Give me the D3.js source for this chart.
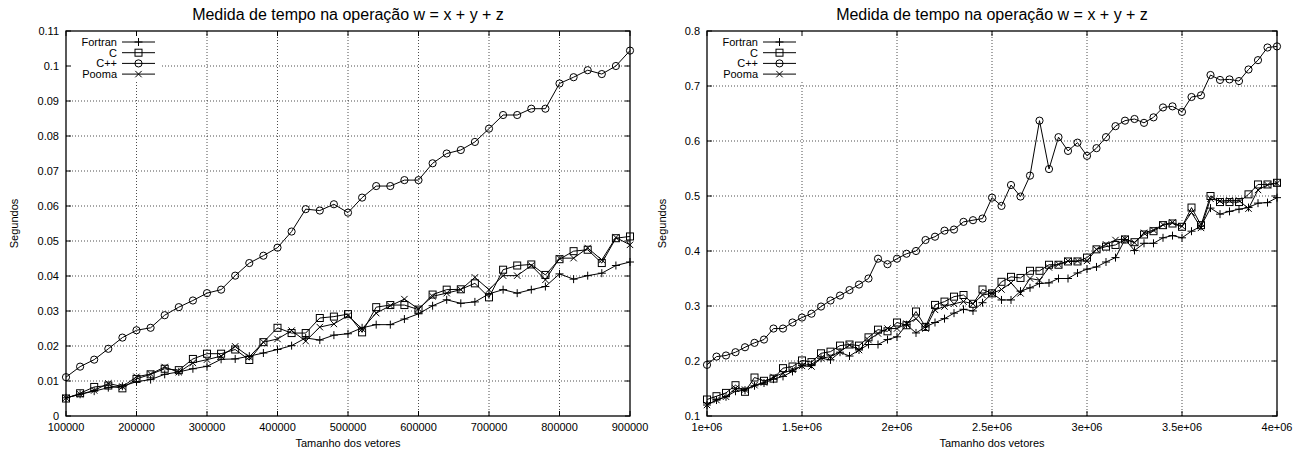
<!DOCTYPE html>
<html>
<head>
<meta charset="utf-8">
<script src="https://cdn.jsdelivr.net/npm/d3@7"></script>
<style>
  body { margin: 0; background: #fff; }
  svg { display: block; font-family: "Liberation Sans", Arial, sans-serif; }
</style>
</head>
<body>
<div id="container"></div>
<script>
// tamanhos dos vetores (eixo x)
const sizesA = [100000, 120000, 140000, 160000, 180000, 200000, 220000, 240000, 260000, 280000,
    300000, 320000, 340000, 360000, 380000, 400000, 420000, 440000, 460000, 480000,
    500000, 520000, 540000, 560000, 580000, 600000, 620000, 640000, 660000, 680000,
    700000, 720000, 740000, 760000, 780000, 800000, 820000, 840000, 860000, 880000, 900000];
const sizesB = [1000000, 1050000, 1100000, 1150000, 1200000, 1250000, 1300000, 1350000, 1400000, 1450000,
    1500000, 1550000, 1600000, 1650000, 1700000, 1750000, 1800000, 1850000, 1900000, 1950000,
    2000000, 2050000, 2100000, 2150000, 2200000, 2250000, 2300000, 2350000, 2400000, 2450000,
    2500000, 2550000, 2600000, 2650000, 2700000, 2750000, 2800000, 2850000, 2900000, 2950000,
    3000000, 3050000, 3100000, 3150000, 3200000, 3250000, 3300000, 3350000, 3400000, 3450000,
    3500000, 3550000, 3600000, 3650000, 3700000, 3750000, 3800000, 3850000, 3900000, 3950000, 4000000];

const seriesNames = ['Fortran', 'C', 'C++', 'Pooma'];

// segundos - grafico da esquerda
const fortranA = [.0052, .0062, .0071, .0081, .0085, .0098, .0104, .0119, .0126, .0135,
    .0142, .0162, .0163, .0171, .0180, .0190, .0201, .0223, .0217, .0231,
    .0235, .0252, .0261, .0261, .0277, .0292, .0315, .0332, .0322, .0326,
    .0349, .0361, .0351, .0361, .0370, .0406, .0391, .0401, .0408, .0430, .0440];
const cA = [.0050, .0065, .0083, .0087, .0079, .0106, .0119, .0135, .0131, .0163,
    .0178, .0178, .0190, .0160, .0211, .0252, .0237, .0237, .0280, .0284,
    .0291, .0239, .0311, .0317, .0317, .0304, .0347, .0361, .0362, .0379,
    .0339, .0418, .0430, .0433, .0403, .0448, .0471, .0475, .0437, .0508, .0513];
const cppA = [.0111, .0141, .0161, .0192, .0224, .0245, .0252, .0288, .0311, .0330,
    .0351, .0361, .0401, .0437, .0458, .0481, .0527, .0591, .0587, .0605,
    .0581, .0624, .0657, .0657, .0674, .0674, .0722, .0750, .0760, .0783,
    .0821, .0860, .0860, .0878, .0878, .0950, .0968, .0988, .0977, .1000, .1044];
const poomaA = [.0052, .0062, .0073, .0093, .0084, .0112, .0120, .0140, .0125, .0152,
    .0161, .0171, .0199, .0169, .0211, .0220, .0244, .0214, .0254, .0263,
    .0287, .0249, .0294, .0315, .0334, .0306, .0342, .0351, .0361, .0396,
    .0361, .0401, .0401, .0430, .0389, .0451, .0451, .0480, .0446, .0510, .0489];

// segundos - grafico da direita
const fortranB = [.120, .129, .135, .145, .147, .155, .160, .167, .172, .181,
    .192, .194, .205, .202, .216, .209, .220, .230, .230, .239,
    .244, .266, .251, .262, .270, .277, .287, .294, .291, .306,
    .323, .311, .311, .327, .333, .341, .342, .350, .350, .360,
    .367, .371, .380, .388, .421, .401, .414, .414, .424, .428,
    .424, .436, .445, .478, .467, .472, .476, .479, .487, .488, .497];
const cB = [.130, .136, .142, .156, .144, .170, .164, .168, .187, .190,
    .201, .198, .214, .217, .228, .230, .228, .243, .257, .254,
    .270, .265, .290, .262, .302, .308, .317, .320, .304, .330,
    .323, .344, .353, .351, .364, .364, .375, .375, .381, .381,
    .388, .403, .408, .411, .421, .416, .430, .436, .447, .450,
    .444, .479, .447, .500, .489, .489, .489, .503, .521, .521, .524];
const cppB = [.193, .208, .210, .216, .225, .233, .239, .259, .259, .270,
    .279, .286, .299, .310, .319, .329, .339, .350, .386, .376,
    .386, .395, .400, .420, .426, .437, .439, .453, .456, .459,
    .497, .482, .520, .499, .537, .637, .549, .607, .582, .597,
    .573, .587, .607, .627, .637, .640, .633, .643, .661, .663,
    .653, .680, .683, .720, .711, .712, .709, .730, .747, .770, .772];
const poomaB = [.120, .129, .135, .150, .148, .156, .161, .171, .178, .184,
    .191, .190, .205, .208, .217, .229, .220, .238, .250, .259,
    .259, .268, .277, .259, .293, .299, .304, .308, .304, .320,
    .323, .330, .342, .323, .350, .347, .370, .376, .382, .382,
    .382, .403, .412, .420, .422, .415, .433, .438, .448, .452,
    .445, .470, .442, .495, .491, .492, .492, .477, .511, .520, .523];

// ticks
const xTicksA = [100000, 200000, 300000, 400000, 500000, 600000, 700000, 800000, 900000];
const yTicksA = [0, 0.01, 0.02, 0.03, 0.04, 0.05, 0.06, 0.07, 0.08, 0.09, 0.1, 0.11];
const xTicksB = [1000000, 1500000, 2000000, 2500000, 3000000, 3500000, 4000000];
const xLabelsB = ['1e+06', '1.5e+06', '2e+06', '2.5e+06', '3e+06', '3.5e+06', '4e+06'];
const yTicksB = [0.1, 0.2, 0.3, 0.4, 0.5, 0.6, 0.7, 0.8];

const W = 1302, H = 451;
const svg = d3.select('#container')
    .append('svg')
    .attr('width', W)
    .attr('height', H);

// simbolos estilo gnuplot
function drawPoint(sel, kind) {
    if (kind === 0) {
        sel.append('path').attr('d', 'M-4,0H4M0,-4V4');
    } else if (kind === 1) {
        sel.append('rect').attr('x', -3.5).attr('y', -3.5).attr('width', 7).attr('height', 7)
            .attr('fill', 'none');
    } else if (kind === 2) {
        sel.append('circle').attr('r', 3.6).attr('fill', 'none');
    } else {
        sel.append('path').attr('d', 'M-3.2,-3.2L3.2,3.2M-3.2,3.2L3.2,-3.2');
    }
}

function drawChart(cfg) {
    const x = d3.scaleLinear().domain(cfg.xDomain).range([cfg.left, cfg.right]);
    const y = d3.scaleLinear().domain(cfg.yDomain).range([cfg.bottom, cfg.top]);
    const g = svg.append('g').attr('stroke-width', 1);

    // grade pontilhada
    g.append('g').selectAll('line.gx')
        .data(cfg.xTicks.slice(1, -1))
        .enter().append('line')
        .attr('x1', d => x(d)).attr('x2', d => x(d))
        .attr('y1', cfg.top).attr('y2', cfg.bottom)
        .attr('stroke', '#000').attr('stroke-width', 0.7)
        .attr('stroke-dasharray', '1,2');
    g.append('g').selectAll('line.gy')
        .data(cfg.yTicks.slice(1, -1))
        .enter().append('line')
        .attr('y1', d => y(d)).attr('y2', d => y(d))
        .attr('x1', cfg.left).attr('x2', cfg.right)
        .attr('stroke', '#000').attr('stroke-width', 0.7)
        .attr('stroke-dasharray', '1,2');

    // area da legenda apaga a grade
    g.append('rect')
        .attr('x', cfg.left + 1).attr('y', cfg.top + 1)
        .attr('width', 95).attr('height', 50)
        .attr('fill', '#fff');

    // ticks nos quatro lados
    const tk = 5;
    const ticks = g.append('g').attr('stroke', '#000');
    cfg.xTicks.forEach(d => {
        ticks.append('line').attr('x1', x(d)).attr('x2', x(d)).attr('y1', cfg.bottom).attr('y2', cfg.bottom - tk);
        ticks.append('line').attr('x1', x(d)).attr('x2', x(d)).attr('y1', cfg.top).attr('y2', cfg.top + tk);
    });
    cfg.yTicks.forEach(d => {
        ticks.append('line').attr('y1', y(d)).attr('y2', y(d)).attr('x1', cfg.left).attr('x2', cfg.left + tk);
        ticks.append('line').attr('y1', y(d)).attr('y2', y(d)).attr('x1', cfg.right).attr('x2', cfg.right - tk);
    });

    // rotulos dos ticks
    g.append('g').selectAll('text')
        .data(cfg.xTicks)
        .enter().append('text')
        .attr('x', d => x(d))
        .attr('y', cfg.bottom + 15)
        .attr('text-anchor', 'middle')
        .attr('font-size', 11)
        .text((d, i) => cfg.xLabels ? cfg.xLabels[i] : d);
    g.append('g').selectAll('text')
        .data(cfg.yTicks)
        .enter().append('text')
        .attr('x', cfg.left - 7)
        .attr('y', d => y(d) + 4)
        .attr('text-anchor', 'end')
        .attr('font-size', 11)
        .text(d => d3.format('~g')(d));

    // series
    const line = d3.line().x(d => x(d[0])).y(d => y(d[1]));
    cfg.series.forEach((vals, k) => {
        const pts = cfg.sizes.map((s, i) => [s, vals[i]]);
        g.append('path')
            .datum(pts)
            .attr('d', line)
            .attr('fill', 'none')
            .attr('stroke', '#000');
        const pg = g.append('g').attr('stroke', '#000').attr('fill', 'none');
        pts.forEach(p => {
            drawPoint(pg.append('g').attr('transform', `translate(${x(p[0])},${y(p[1])})`), k);
        });
    });

    // legenda
    const lg = g.append('g');
    seriesNames.forEach((name, k) => {
        const ly = cfg.top + 11 + k * 10.7;
        lg.append('text')
            .attr('x', cfg.left + 51)
            .attr('y', ly + 4)
            .attr('text-anchor', 'end')
            .attr('font-size', 11)
            .text(name);
        lg.append('line')
            .attr('x1', cfg.left + 56).attr('x2', cfg.left + 89)
            .attr('y1', ly).attr('y2', ly)
            .attr('stroke', '#000');
        drawPoint(lg.append('g').attr('stroke', '#000').attr('fill', 'none')
            .attr('transform', `translate(${cfg.left + 72.5},${ly})`), k);
    });

    // borda
    g.append('rect')
        .attr('x', cfg.left).attr('y', cfg.top)
        .attr('width', cfg.right - cfg.left).attr('height', cfg.bottom - cfg.top)
        .attr('fill', 'none').attr('stroke', '#000').attr('stroke-width', 1.3);

    // titulos
    const mid = (cfg.left + cfg.right) / 2;
    g.append('text')
        .attr('x', mid).attr('y', 20)
        .attr('text-anchor', 'middle')
        .attr('font-size', 16)
        .text('Medida de tempo na operação w = x + y + z');
    g.append('text')
        .attr('x', mid).attr('y', 447)
        .attr('text-anchor', 'middle')
        .attr('font-size', 11)
        .text('Tamanho dos vetores');
    g.append('text')
        .attr('transform', `translate(${cfg.ylabelX},${(cfg.top + cfg.bottom) / 2}) rotate(-90)`)
        .attr('text-anchor', 'middle')
        .attr('dy', 4)
        .attr('font-size', 11)
        .text('Segundos');
}

drawChart({
    left: 66, right: 630, top: 31, bottom: 416, ylabelX: 14,
    xDomain: [100000, 900000], yDomain: [0, 0.11],
    xTicks: xTicksA, yTicks: yTicksA,
    sizes: sizesA, series: [fortranA, cA, cppA, poomaA]
});

drawChart({
    left: 707, right: 1277, top: 31, bottom: 416, ylabelX: 662,
    xDomain: [1000000, 4000000], yDomain: [0.1, 0.8],
    xTicks: xTicksB, xLabels: xLabelsB, yTicks: yTicksB,
    sizes: sizesB, series: [fortranB, cB, cppB, poomaB]
});
</script>
</body>
</html>
